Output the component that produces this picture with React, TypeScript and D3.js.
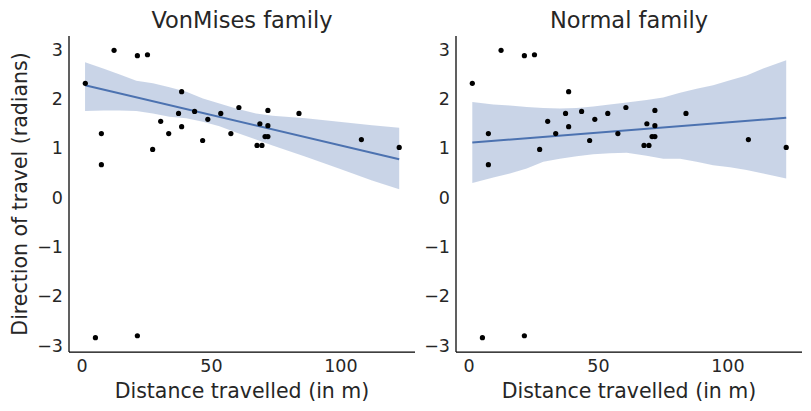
import * as d3 from "d3";
import { useEffect, useRef } from "react";

// observed points (shared by both panels)
const distance = [
  1.3, 5.2, 7.5, 7.5, 12.4, 21.4, 21.4, 25.3, 27.3, 30.4, 33.5, 37.3, 38.5,
  38.5, 43.5, 46.6, 48.6, 53.6, 57.5, 60.6, 67.6, 68.7, 69.5, 70.7, 71.8, 71.8,
  71.8, 83.8, 107.9, 122.5,
];
const direction = [
  2.31, -2.85, 1.29, 0.66, 2.98, 2.87, -2.81, 2.89, 0.97, 1.54, 1.29, 1.7,
  2.14, 1.43, 1.74, 1.15, 1.58, 1.7, 1.29, 1.82, 1.05, 1.49, 1.05, 1.23, 1.23,
  1.45, 1.76, 1.7, 1.17, 1.01,
];

// VonMises fit
const vmLineX = [1.2, 122.5];
const vmLineY = [2.27, 0.77];
const vmBandX = [
  1.2, 8.2, 14.6, 21.0, 27.4, 33.8, 40.3, 46.7, 53.1, 59.5, 67.2, 73.6, 86.4,
  99.2, 112.0, 122.5,
];
const vmUpper = [
  2.74, 2.61, 2.49, 2.36, 2.31, 2.23, 2.14, 2.0, 1.9, 1.8, 1.7, 1.65, 1.6,
  1.53, 1.46, 1.41,
];
const vmLower = [
  1.75, 1.76, 1.76, 1.75, 1.7, 1.63, 1.6, 1.53, 1.44, 1.31, 1.17, 1.05, 0.82,
  0.58, 0.34, 0.16,
];

// Normal fit
const nLineX = [1.3, 122.5];
const nLineY = [1.11, 1.61];
const nBandX = [
  1.3, 9.4, 15.8, 22.3, 28.7, 35.1, 41.6, 48.0, 54.4, 60.9, 68.6, 75.0, 81.5,
  87.9, 94.3, 100.8, 107.2, 113.6, 122.5,
];
const nUpper = [
  1.93, 1.88, 1.86, 1.83, 1.81, 1.8, 1.81, 1.84, 1.88, 1.92, 1.97, 2.02, 2.12,
  2.2, 2.27, 2.37, 2.47, 2.61, 2.78,
];
const nLower = [
  0.29, 0.4, 0.48, 0.58, 0.72, 0.78, 0.83, 0.87, 0.89, 0.9, 0.84, 0.78, 0.78,
  0.72, 0.65, 0.61, 0.55, 0.48, 0.38,
];

const xTicks = [0, 50, 100];
const yTicks = [-3, -2, -1, 0, 1, 2, 3];

const panels = [
  {
    title: "VonMises family",
    left: 69,
    lineX: vmLineX,
    lineY: vmLineY,
    bandX: vmBandX,
    upper: vmUpper,
    lower: vmLower,
  },
  {
    title: "Normal family",
    left: 456,
    lineX: nLineX,
    lineY: nLineY,
    bandX: nBandX,
    upper: nUpper,
    lower: nLower,
  },
];

const W = 811;
const H = 411;
const top = 36;
const bottom = 352;
const pw = 346;
const font = "DejaVu Sans, sans-serif";
const ink = "#262626";

function App() {
  const ref = useRef<SVGSVGElement>(null);

  useEffect(() => {
    const svg = d3.select(ref.current);
    svg.selectAll("*").remove();

    const y = d3.scaleLinear().domain([-3.14, 3.27]).range([bottom, top]);

    panels.forEach((p) => {
      const x = d3.scaleLinear().domain([-5.0, 128.6]).range([0, pw]);
      const g = svg.append("g").attr("transform", `translate(${p.left},0)`);

      const band = d3
        .area<number>()
        .x((_, i) => x(p.bandX[i]))
        .y0((_, i) => y(p.lower[i]))
        .y1((_, i) => y(p.upper[i]));
      g.append("path")
        .attr("d", band(p.bandX))
        .attr("fill", "#4c72b0")
        .attr("fill-opacity", 0.3);

      const line = d3
        .line<number>()
        .x((_, i) => x(p.lineX[i]))
        .y((_, i) => y(p.lineY[i]));
      g.append("path")
        .attr("d", line(p.lineX))
        .attr("fill", "none")
        .attr("stroke", "#4c72b0")
        .attr("stroke-width", 2);

      g.selectAll("circle")
        .data(distance)
        .join("circle")
        .attr("cx", (d) => x(d))
        .attr("cy", (_, i) => y(direction[i]))
        .attr("r", 2.6)
        .attr("fill", "#000");

      // spines
      g.append("line")
        .attr("x1", 0)
        .attr("x2", 0)
        .attr("y1", top)
        .attr("y2", bottom)
        .attr("stroke", "#000")
        .attr("stroke-width", 1.25);
      g.append("line")
        .attr("x1", 0)
        .attr("x2", pw)
        .attr("y1", bottom)
        .attr("y2", bottom)
        .attr("stroke", "#000")
        .attr("stroke-width", 1.25);

      g.selectAll(".xt")
        .data(xTicks)
        .join("text")
        .attr("x", (d) => x(d))
        .attr("y", bottom + 20)
        .attr("text-anchor", "middle")
        .attr("font-family", font)
        .attr("font-size", 17.5)
        .attr("fill", ink)
        .text((d) => d3.format("d")(d));

      g.selectAll(".yt")
        .data(yTicks)
        .join("text")
        .attr("x", -6)
        .attr("y", (d) => y(d) + 6.5)
        .attr("text-anchor", "end")
        .attr("font-family", font)
        .attr("font-size", 17.5)
        .attr("fill", ink)
        .text((d) => (d < 0 ? "\u2212" + Math.abs(d) : String(d)));

      g.append("text")
        .attr("x", pw / 2)
        .attr("y", 28)
        .attr("text-anchor", "middle")
        .attr("font-family", font)
        .attr("font-size", 22.5)
        .attr("fill", ink)
        .text(p.title);

      g.append("text")
        .attr("x", pw / 2)
        .attr("y", 398)
        .attr("text-anchor", "middle")
        .attr("font-family", font)
        .attr("font-size", 20.5)
        .attr("fill", ink)
        .text("Distance travelled (in m)");
    });

    svg
      .append("text")
      .attr("transform", `translate(27,${(top + bottom) / 2}) rotate(-90)`)
      .attr("text-anchor", "middle")
      .attr("font-family", font)
      .attr("font-size", 20.5)
      .attr("fill", ink)
      .text("Direction of travel (radians)");
  }, []);

  return (
    <div style={{ position: "fixed", left: 0, top: 0 }}>
      <svg ref={ref} width={W} height={H} style={{ display: "block", background: "#fff" }} />
    </div>
  );
}

export default App;
